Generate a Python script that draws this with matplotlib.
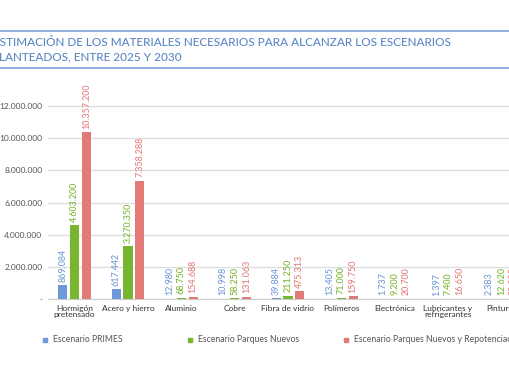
#!/usr/bin/env python3
# -*- coding: utf-8 -*-
import matplotlib
matplotlib.use("Agg")
import matplotlib.pyplot as plt
import numpy as np
from matplotlib.lines import Line2D

categories = ["Hormigón\npretensado", "Acero y hierro", "Aluminio", "Cobre",
              "Fibra de vidrio", "Polímeros", "Electrónica",
              "Lubricantes y\nrefrigerantes", "Pinturas"]
primes = [869084, 617442, 12980, 10998, 39884, 13405, 1737, 1397, 2383]
nuevos = [4603200, 3270350, 68750, 58250, 211250, 71000, 9200, 7400, 12620]
repot = [10357200, 7358288, 154688, 131063, 475313, 159750, 20700, 16650, 28395]
series_names = ["Escenario PRIMES", "Escenario Parques Nuevos",
                "Escenario Parques Nuevos y Repotenciación"]
colors = ["#6f98d6", "#79b530", "#e27a78"]
yticks = [0, 2000000, 4000000, 6000000, 8000000, 10000000, 12000000]

plt.rcParams['font.family'] = ['Lato', 'DejaVu Sans']


def fmt(v):
    return f"{v:,}".replace(",", ".")


def main():
    fig = plt.figure(figsize=(5.10, 3.82), dpi=100)
    ax = fig.add_axes([48 / 510, 83 / 382, 480 / 510, 209 / 382])

    x = np.arange(len(categories))
    width = 0.17
    offs = [-0.22, 0, 0.22]
    for vals, col, off in zip([primes, nuevos, repot], colors, offs):
        ax.bar(x + off, vals, width, color=col, zorder=3)
        for xi, v in zip(x, vals):
            ax.annotate(fmt(v), (xi + off, v), xytext=(0, 2.5),
                        textcoords="offset points", rotation=90,
                        ha="center", va="bottom", color=col,
                        fontsize=6.4, fontweight="medium")

    ax.set_xlim(-0.5, len(categories) - 0.5)
    ax.set_ylim(0, 13000000)
    ax.set_yticks(yticks)
    ax.set_yticklabels(["-"] + [fmt(t) for t in yticks[1:]])
    ax.set_xticks(x)
    ax.set_xticklabels(categories, linespacing=0.9)
    ax.tick_params(axis="both", length=0, labelsize=6, colors="#333333")
    ax.tick_params(axis="y", pad=4, labelcolor="#555555")
    ax.tick_params(axis="x", pad=4)
    ax.grid(axis="y", color="#dddddd", linewidth=0.9, zorder=0)
    for s in ["top", "right", "left"]:
        ax.spines[s].set_visible(False)
    ax.spines["bottom"].set_color("#cccccc")
    ax.spines["bottom"].set_linewidth(0.8)

    # title band
    for yy in [1 - 31 / 382, 1 - 68 / 382]:
        fig.add_artist(Line2D([0, 1], [yy, yy], color="#7fa3d8", linewidth=1.2))
    fig.text(-0.014, 1 - 43 / 382, "ESTIMACIÓN DE LOS MATERIALES NECESARIOS PARA ALCANZAR LOS ESCENARIOS",
             color="#5b87c5", fontsize=8.5, fontweight="medium", va="center")
    fig.text(-0.015, 1 - 57 / 382, "PLANTEADOS, ENTRE 2025 Y 2030",
             color="#5b87c5", fontsize=8.5, fontweight="medium", va="center")

    # legend
    leg_x = [45, 190, 346]
    for lx, name, col in zip(leg_x, series_names, colors):
        fig.add_artist(Line2D([lx / 510], [1 - 340 / 382], marker="s",
                              markersize=3, color=col, linestyle="none"))
        fig.text((lx + 8) / 510, 1 - 340 / 382, name, fontsize=6.2,
                 color="#555555", va="center")

    fig.savefig("out.png", dpi=100)


if __name__ == '__main__':
    main()
